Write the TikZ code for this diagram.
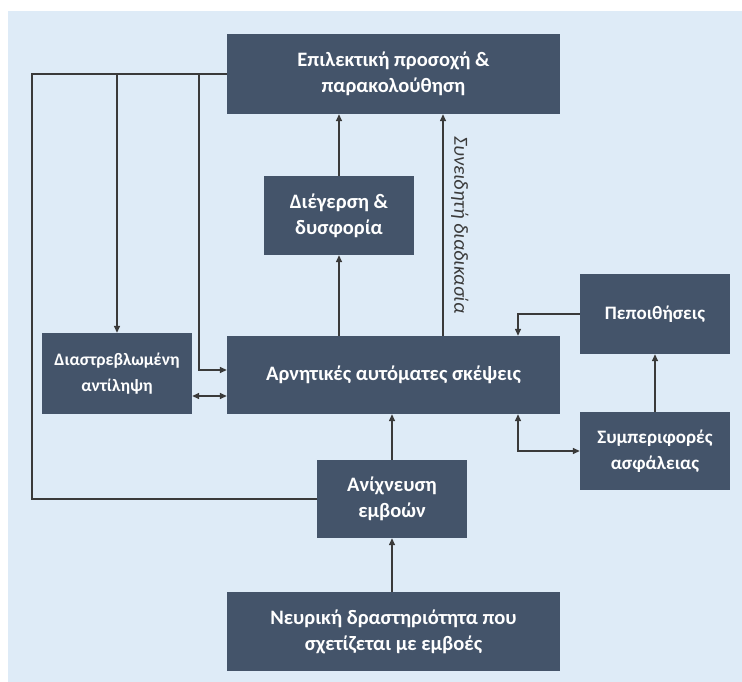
\documentclass[tikz,border=0pt]{standalone}
\usepackage{fontspec}
\setmainfont{Carlito}
\usetikzlibrary{arrows.meta,calc}

\definecolor{boxfill}{HTML}{44546A}
\definecolor{panel}{HTML}{DEEBF7}
\definecolor{wire}{HTML}{3A3A3A}

\tikzset{
  block/.style={rectangle, fill=boxfill, text=white, align=center, inner sep=2pt,
    font=\bfseries\fontsize{20.5}{26}\selectfont},
  smallblock/.style={block, font=\bfseries\fontsize{19}{26}\selectfont},
  link/.style={draw=wire, line width=1.4pt, -{Triangle[length=7pt,width=6pt]}},
  plain/.style={draw=wire, line width=1.4pt},
}

\begin{document}
\begin{tikzpicture}[x=1pt,y=-1pt]
  % Page and panel
  \useasboundingbox (0,0) rectangle (742,682);
  \fill[panel] (8,11) rectangle (742,682);

  % Blocks
  \node[block, minimum width=333pt, minimum height=80pt] (att) at (393.5,74) {Επιλεκτική προσοχή \&\\παρακολούθηση};
  \node[block, minimum width=150pt, minimum height=79pt] (arousal) at (339,215.5) {Διέγερση \&\\δυσφορία};
  \node[block, minimum width=333pt, minimum height=78pt] (neg) at (393.5,375) {Αρνητικές αυτόματες σκέψεις};
  \node[block, minimum width=150pt, minimum height=81pt, font=\bfseries\fontsize{17.5}{26}\selectfont] (dist) at (117,373.5) {Διαστρεβλωμένη\\αντίληψη};
  \node[smallblock, minimum width=150pt, minimum height=80pt] (beliefs) at (655,314) {Πεποιθήσεις};
  \node[smallblock, minimum width=150pt, minimum height=78pt] (safety) at (655,451) {Συμπεριφορές\\ασφάλειας};
  \node[block, minimum width=150pt, minimum height=78pt] (detect) at (392,499) {Ανίχνευση\\εμβοών};
  \node[block, minimum width=333pt, minimum height=79pt] (neural) at (393.5,631.5) {Νευρική δραστηριότητα που\\σχετίζεται με εμβοές};

  % Helper columns
  \coordinate (loop) at (32,75);
  \coordinate (drop) at (199,75);
  \coordinate (aware) at (443,0);
  \coordinate (side) at (518,0);

  % Upward flow
  \draw[link] (neural.north -| detect) -- (detect.south);
  \draw[link] (detect.north) -- (neg.south -| detect);
  \draw[link] (arousal |- neg.north) -- (arousal.south);
  \draw[link] (arousal.north) -- (att.south -| arousal);
  \draw[link] (neg.north -| aware) -- (att.south -| aware)
    node[pos=0.5, right=4pt, rotate=-90, anchor=south, text=wire,
         font=\itshape\fontsize{20}{24}\selectfont] {Συνειδητή διαδικασία};

  % Feedback loop on the left
  \draw[plain] (detect.west) -| (att.west -| loop) -- (att.west);
  \draw[link] (att.west -| dist.north) -- (dist.north);
  \draw[link] (att.west -| drop) |- ([yshift=5pt]neg.west);
  \draw[link, {Triangle[length=7pt,width=6pt]}-{Triangle[length=7pt,width=6pt]}]
    (dist.east |- 0,396) -- (neg.west |- 0,396);

  % Right side
  \draw[link] (beliefs.west) -| (neg.north -| side);
  \draw[link] (safety.north) -- (beliefs.south);
  \draw[link, {Triangle[length=7pt,width=6pt]}-{Triangle[length=7pt,width=6pt]}]
    (neg.south -| side) |- (safety.west);
\end{tikzpicture}
\end{document}
